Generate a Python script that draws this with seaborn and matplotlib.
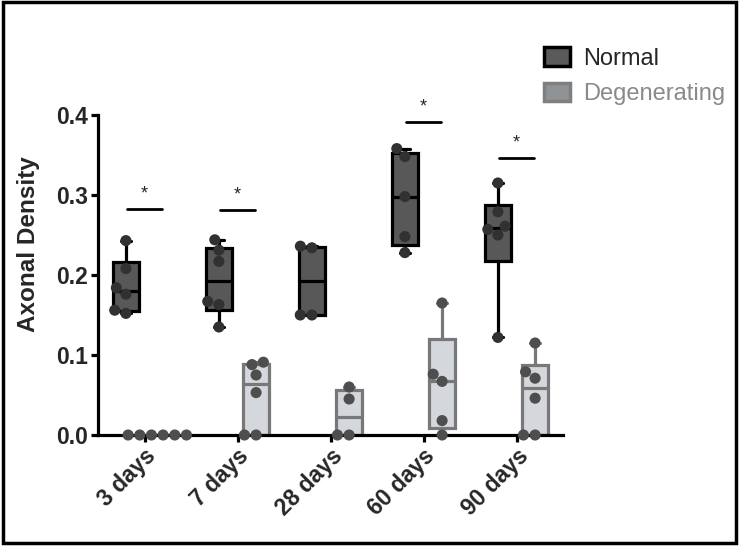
import numpy as np
import pandas as pd
import matplotlib
matplotlib.use("Agg")
import matplotlib.pyplot as plt
from matplotlib.patches import Patch, Rectangle
import matplotlib.transforms as mtrans
import seaborn as sns

# Datos (densidad axonal por animal)
days = ["3 days", "7 days", "28 days", "60 days", "90 days"]
groups = ["Normal", "Degenerating"]

normal_3d = [0.152, 0.156, 0.176, 0.184, 0.208, 0.243]
normal_7d = [0.135, 0.163, 0.167, 0.217, 0.231, 0.244]
normal_28d = [0.150, 0.150, 0.234, 0.236]
normal_60d = [0.228, 0.248, 0.298, 0.348, 0.358]
normal_90d = [0.122, 0.250, 0.257, 0.261, 0.279, 0.315]

degen_3d = [0.0, 0.0, 0.0, 0.0, 0.0, 0.0]
degen_7d = [0.0, 0.0, 0.053, 0.075, 0.088, 0.091]
degen_28d = [0.0, 0.0, 0.045, 0.060]
degen_60d = [0.0, 0.018, 0.067, 0.076, 0.165]
degen_90d = [0.0, 0.0, 0.046, 0.071, 0.079, 0.115]

# significancia (*) por grupo
sig_days = ["3 days", "7 days", "60 days", "90 days"]
sig_heights = [0.282, 0.281, 0.391, 0.346]

normal_vals = [normal_3d, normal_7d, normal_28d, normal_60d, normal_90d]
degen_vals = [degen_3d, degen_7d, degen_28d, degen_60d, degen_90d]

rows = []
for d, nv, dv in zip(days, normal_vals, degen_vals):
    rows += [(d, "Normal", v) for v in nv]
    rows += [(d, "Degenerating", v) for v in dv]
df = pd.DataFrame(rows, columns=["day", "group", "density"])

# estilos
sns.set_style("ticks")
plt.rcParams["font.family"] = ["Liberation Sans", "DejaVu Sans"]

fill = {"Normal": "#585858", "Degenerating": "#d4d8dd"}
edge = {"Normal": "#000000", "Degenerating": "#787878"}
dots = {"Normal": "#313131", "Degenerating": "#4e4e4e"}
lw = 2.3

fig = plt.figure(figsize=(7.4, 5.47), dpi=100)
ax = fig.add_axes([98 / 740, 112 / 547, 465 / 740, 320 / 547])

# cajas con cuartiles tipo Prism (metodo weibull)
for k, (g, vals) in enumerate(zip(groups, [normal_vals, degen_vals])):
    stats = []
    for v in vals:
        q1, med, q3 = np.percentile(v, [25, 50, 75], method="weibull")
        stats.append(dict(med=med, q1=q1, q3=q3, whislo=min(v), whishi=max(v), fliers=[]))
    pos = [i + (-0.2 if k == 0 else 0.2) for i in range(len(days))]
    ax.bxp(stats, positions=pos, widths=0.28, patch_artist=True, showfliers=False,
           manage_ticks=False, capwidths=0.1,
           boxprops=dict(facecolor=fill[g], edgecolor=edge[g], linewidth=lw),
           whiskerprops=dict(color=edge[g], linewidth=lw),
           capprops=dict(color=edge[g], linewidth=lw),
           medianprops=dict(color=edge[g], linewidth=lw))

# puntos individuales
sns.swarmplot(data=df, x="day", y="density", hue="group", order=days,
              hue_order=groups, dodge=True, palette=dots, size=8,
              linewidth=0, legend=False, ax=ax, warn_thresh=1)
for c in ax.collections:
    c.set_zorder(4)
    c.set_clip_on(False)

# lineas de significancia
for d, h in zip(sig_days, sig_heights):
    i = days.index(d)
    ax.plot([i - 0.19, i + 0.19], [h, h], color="black", lw=2, clip_on=False)
    ax.text(i, h + 0.014, "*", ha="center", va="baseline", fontsize=13)

ax.set_xlim(-0.5, 4.5)
ax.set_ylim(0, 0.4)
ax.set_yticks([0.0, 0.1, 0.2, 0.3, 0.4])
ax.set_yticklabels(["0.0", "0.1", "0.2", "0.3", "0.4"], fontsize=16.5, fontweight="bold")
ax.set_xticks(range(len(days)))
ax.set_xticklabels(days, fontsize=16.5, fontweight="bold", rotation=45,
                   ha="right", va="top", rotation_mode="anchor")
shift = mtrans.ScaledTranslation(5 / 72, 0, fig.dpi_scale_trans)
for t in ax.get_xticklabels():
    t.set_transform(t.get_transform() + shift)
ax.set_xlabel("")
ax.set_ylabel("Axonal Density", fontsize=17.5, fontweight="bold")
ax.yaxis.set_label_coords(-0.124, 0.597)
sns.despine(ax=ax)
for s in ["left", "bottom"]:
    ax.spines[s].set_linewidth(lw)
    ax.spines[s].set_color("black")
ax.tick_params(width=lw, length=5, color="black", pad=2)

# leyenda
handles = [Patch(facecolor="#5a5a5a", edgecolor="black", linewidth=2.5),
           Patch(facecolor="#8f9396", edgecolor="#7f7f7f", linewidth=2.5)]
leg = fig.legend(handles, groups, loc="upper left", bbox_to_anchor=(544 / 740, 1 - 47 / 547),
                 frameon=False, fontsize=17, handlelength=1.1, handleheight=0.85,
                 handletextpad=0.55, labelspacing=0.55, borderpad=0, borderaxespad=0)
leg.get_texts()[1].set_color("#8a8a8a")

# marco de la imagen
fig.patches.append(Rectangle((0.004, 0.007), 0.99, 0.989, transform=fig.transFigure,
                             fill=False, edgecolor="black", linewidth=2.5))

fig.savefig("out.png", dpi=100)
